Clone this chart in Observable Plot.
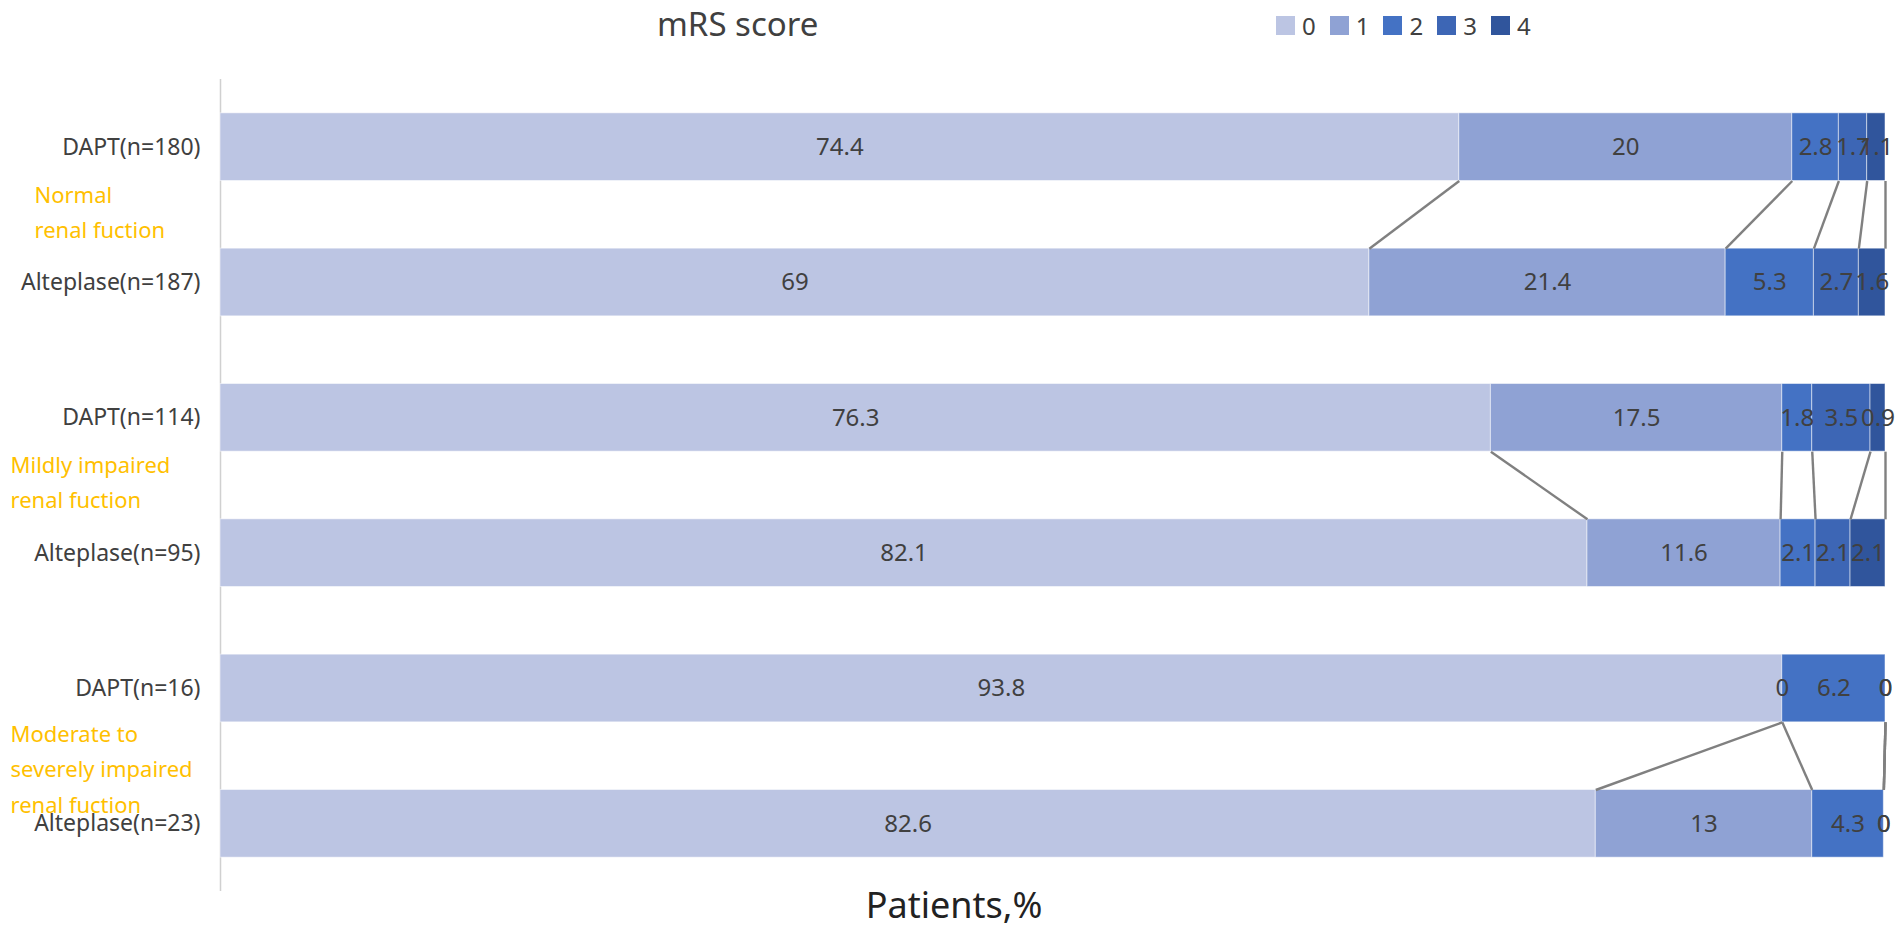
<!DOCTYPE html>
<html>
<head>
<meta charset="utf-8">
<script src="https://cdn.jsdelivr.net/npm/d3@7"></script>
<script src="https://cdn.jsdelivr.net/npm/@observablehq/plot@0.6"></script>
<style>
  body { margin: 0; background: #fff; font-family: "Noto Sans", sans-serif; }
  #wrap { position: relative; width: 1901px; }
  #header { position: relative; height: 50px; }
  #title { position: absolute; left: 657px; top: 1px; font-size: 33px; color: #404040; }
  #legend { position: absolute; left: 1276px; top: 9px; display: flex; align-items: center; font-size: 24px; color: #404040; }
  .item { display: flex; align-items: center; margin-right: 14px; }
  .sw { width: 19px; height: 19px; margin-right: 7px; }
</style>
</head>
<body>
<div id="wrap">
  <div id="header"><div id="title">mRS score</div><div id="legend"></div></div>
  <div id="chart"></div>
</div>
<script>
// ---- data ----
const scores = ["0", "1", "2", "3", "4"];
const colors = ["#BCC5E3", "#8FA2D4", "#4472C4", "#3D66B5", "#30559C"];
const rowLabels = ["DAPT(n=180)", "Alteplase(n=187)", "DAPT(n=114)", "Alteplase(n=95)", "DAPT(n=16)", "Alteplase(n=23)"];
const groupLabels = ["Normal\nrenal fuction", "Mildly impaired\nrenal fuction", "Moderate to\nseverely impaired\nrenal fuction"];
const normalDAPT = [74.4, 20, 2.8, 1.7, 1.1];
const normalAlteplase = [69, 21.4, 5.3, 2.7, 1.6];
const mildDAPT = [76.3, 17.5, 1.8, 3.5, 0.9];
const mildAlteplase = [82.1, 11.6, 2.1, 2.1, 2.1];
const moderateDAPT = [93.8, 0, 6.2, 0, 0];
const moderateAlteplase = [82.6, 13, 4.3, 0, 0];
const xLabel = "Patients,%";

const series = [normalDAPT, normalAlteplase, mildDAPT, mildAlteplase, moderateDAPT, moderateAlteplase];

// ---- derived tables ----
const segs = [];
const cums = series.map((vals, row) => {
  let acc = 0;
  const ends = [];
  vals.forEach((v, k) => {
    segs.push({row, score: scores[k], value: v, x1: acc, x2: acc + v});
    acc += v;
    ends.push(acc);
  });
  return ends;
});
const links = [];
for (let g = 0; g < 3; g++) {
  const a = 2 * g, b = 2 * g + 1;
  for (let k = 0; k < scores.length; k++) {
    links.push({x1: cums[a][k], x2: cums[b][k], y1: a + 0.25, y2: b - 0.25});
  }
}
const groups = groupLabels.map((label, g) => ({label, y: 2 * g + 0.5, g}));

// ---- legend ----
const legend = document.getElementById("legend");
scores.forEach((s, i) => {
  const it = document.createElement("div");
  it.className = "item";
  it.innerHTML = `<div class="sw" style="background:${colors[i]}"></div><span>${s}</span>`;
  legend.appendChild(it);
});

const groupStyle = {y: "y", text: "label", frameAnchor: "left", textAnchor: "start", fill: "#FFC000", fontSize: 22, lineHeight: 1.6};

// ---- chart ----
const chart = Plot.plot({
  width: 1901,
  height: 894,
  marginTop: 29,
  marginBottom: 53,
  marginLeft: 220,
  marginRight: 16,
  style: {fontFamily: "Noto Sans, sans-serif", color: "#404040", background: "white"},
  x: {domain: [0, 100], axis: null},
  y: {domain: [5.5, -0.5], axis: null},
  color: {domain: scores, range: colors},
  marks: [
    Plot.ruleX([0], {stroke: "#d0d0d0", strokeWidth: 1.5}),
    Plot.rectX(segs, {x1: "x1", x2: "x2", y1: d => d.row - 0.25, y2: d => d.row + 0.25, fill: "score", stroke: "white", strokeOpacity: 0.5, strokeWidth: 1}),
    Plot.link(links, {x1: "x1", x2: "x2", y1: "y1", y2: "y2", stroke: "#808080", strokeWidth: 2.4}),
    Plot.text(segs, {x: d => (d.x1 + d.x2) / 2, y: "row", text: d => String(d.value), fontSize: 24, fill: "#404040"}),
    Plot.axisY({ticks: [0, 1, 2, 3, 4, 5], tickFormat: i => rowLabels[i], tickSize: 0, tickPadding: 20, fontSize: 23, label: null}),
    Plot.text(groups.filter(d => d.g === 0), {...groupStyle, dx: -186, dy: -6}),
    Plot.text(groups.filter(d => d.g === 1), {...groupStyle, dx: -210, dy: -6}),
    Plot.text(groups.filter(d => d.g === 2), {...groupStyle, dx: -210, dy: 10}),
    Plot.text([xLabel], {frameAnchor: "bottom", dy: 26, text: d => d, fontSize: 36, fill: "#222", dx: -99})
  ]
});
document.getElementById("chart").appendChild(chart);
</script>
</body>
</html>
